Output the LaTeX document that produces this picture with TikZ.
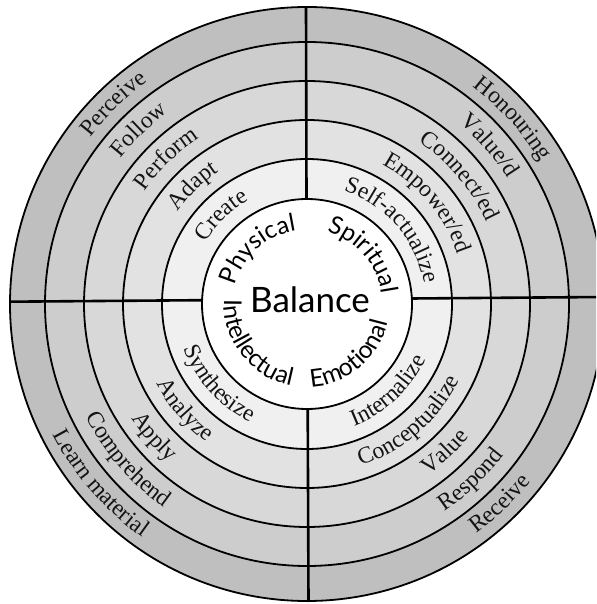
\documentclass[tikz,border=0pt]{standalone}
\usepackage{fontspec}
\setmainfont{Liberation Serif}
\newfontfamily\labelsans{Lato}
\usetikzlibrary{decorations.text}
\definecolor{ringA}{HTML}{BFBFBF}
\definecolor{ringB}{HTML}{CDCDCD}
\definecolor{ringC}{HTML}{D8D8D8}
\definecolor{ringD}{HTML}{E2E2E2}
\definecolor{ringE}{HTML}{F0F0F0}
\definecolor{txtgray}{HTML}{141414}
\tikzset{
  ringline/.style={draw=black, line width=1.8pt},
  crossline/.style={draw=black, line width=2.6pt},
}
% #1 centre angle, #2 baseline radius, #3 font, #4 text
\newcommand\cwlabel[4]{%
  \pgfmathsetmacro\sa{#1+55}\pgfmathsetmacro\ea{#1-55}%
  \path[shift={(C)}, decorate, decoration={text along path, text align=center,
    text={|#3|#4}}] (\sa:#2) arc[start angle=\sa, end angle=\ea, radius=#2];}
\newcommand\ccwlabel[4]{%
  \pgfmathsetmacro\sa{#1-55}\pgfmathsetmacro\ea{#1+55}%
  \path[shift={(C)}, decorate, decoration={text along path, text align=center,
    text={|#3|#4}}] (\sa:#2) arc[start angle=\sa, end angle=\ea, radius=#2];}
\newcommand\serifring{\fontsize{23.5}{24}\selectfont\color{txtgray}}
\newcommand\sansring{\labelsans\fontsize{24.5}{25}\selectfont\color{black}}
\begin{document}
\begin{tikzpicture}[x=1pt,y=1pt]
\useasboundingbox (0,0) rectangle (596,604);
\clip (0,0) rectangle (596,604);
\coordinate (C) at (307,300);
% rings
\fill[ringA] (C) circle[radius=297];
\fill[ringB] (C) circle[radius=262];
\fill[ringC] (C) circle[radius=223];
\fill[ringD] (C) circle[radius=184];
\fill[ringE] (C) circle[radius=145];
\fill[white] (C) circle[radius=105];
\foreach \r in {297,262,223,184,145,105} {\path[ringline] (C) circle[radius=\r];}
% cross lines
\coordinate (hLo) at (10,302.3);
\coordinate (hLi) at (202,303.8);
\coordinate (hRi) at (412,305.5);
\coordinate (hRo) at (604,307);
\coordinate (vTo) at (306,597);
\coordinate (vTi) at (306.5,405);
\coordinate (vBi) at (307.7,195);
\coordinate (vBo) at (308.5,2);
\draw[crossline] (hLo) -- (hLi);
\draw[crossline] (hRi) -- (hRo);
\draw[crossline] (vTo) -- (vTi);
\draw[crossline] (vBi) -- (vBo);
% NW
\cwlabel{134}{273.5}{\serifring}{Perceive}
\cwlabel{134}{236.5}{\serifring}{Follow}
\cwlabel{134}{197.5}{\serifring}{Perform}
\cwlabel{134}{158.5}{\serifring}{Adapt}
\cwlabel{134}{119}{\serifring}{Create}
\cwlabel{132}{74}{\sansring}{Physical}
% NE
\cwlabel{42}{273.5}{\serifring}{Honouring}
\cwlabel{41}{236.5}{\serifring}{Value/d}
\cwlabel{40}{197.5}{\serifring}{Connect/ed}
\cwlabel{40}{158.5}{\serifring}{Empower/ed}
\cwlabel{41}{119}{\serifring}{Self-actualize}
\cwlabel{41}{75}{\sansring}{Spiritual}
% SW
\ccwlabel{221}{285.5}{\serifring}{Learn material}
\ccwlabel{221}{248.5}{\serifring}{Comprehend}
\ccwlabel{221}{209.5}{\serifring}{Apply}
\ccwlabel{221}{170.5}{\serifring}{Analyze}
\ccwlabel{222}{131}{\serifring}{Synthesize}
\ccwlabel{218}{83}{\sansring}{Intellectual}
% SE
\ccwlabel{314}{285.5}{\serifring}{Receive}
\ccwlabel{313}{248.5}{\serifring}{Respond}
\ccwlabel{313}{209.5}{\serifring}{Value}
\ccwlabel{311}{170.5}{\serifring}{Conceptualize}
\ccwlabel{313}{131}{\serifring}{Internalize}
\ccwlabel{310}{83}{\sansring}{Emotional}
% centre
\node[font=\labelsans\fontsize{35}{35}\selectfont] (bal) at (310,304) {Balance};
\end{tikzpicture}
\end{document}
